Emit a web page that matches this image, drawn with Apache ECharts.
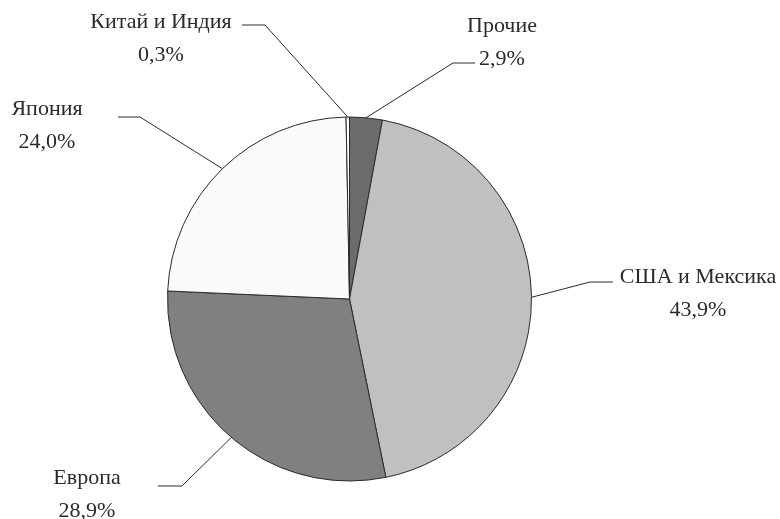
<!DOCTYPE html>
<html>
<head>
<meta charset="utf-8">
<script src="https://cdn.jsdelivr.net/npm/echarts@6/dist/echarts.min.js"></script>
<style>html,body{margin:0;padding:0;background:#fff}#c{width:780px;height:519px}</style>
</head>
<body>
<div id="c"></div>
<script>
// Data
var categories = ['Прочие', 'США и Мексика', 'Европа', 'Япония', 'Китай и Индия'];
var shares = [2.9, 43.9, 28.9, 24.0, 0.3];
var colors = ['#6b6b6b', '#c0c0c0', '#808080', '#fafafa', '#ffffff'];

// Label layout (label block centre x, first-line centre y; line end; elbow)
var labelPos = [[502, 26], [698, 277], [87, 478], [47, 109], [161, 22]];
var lineEnd = [[475, 63], [613, 282], [158, 486], [118, 117], [242, 25]];
var lineElbow = [[453, 63], [590, 282], [182, 486], [140, 117], [265, 25]];
var LH = 33;

var chart = echarts.init(document.getElementById('c'), null, {renderer: 'canvas'});
chart.setOption({
  backgroundColor: '#ffffff',
  animation: false,
  series: [{
    type: 'pie',
    center: [349.5, 299],
    radius: [0, 182],
    startAngle: 90,
    clockwise: true,
    avoidLabelOverlap: false,
    data: categories.map(function (c, i) {
      return {name: c, value: shares[i], itemStyle: {color: colors[i]}};
    }),
    itemStyle: {borderColor: '#2a2a2a', borderWidth: 1},
    label: {
      show: true,
      position: 'outside',
      color: '#2a2a2a',
      fontFamily: 'Liberation Serif',
      fontSize: 22,
      lineHeight: LH,
      align: 'center',
      formatter: function (p) {
        return p.name + '\n' + p.value.toFixed(1).replace('.', ',') + '%';
      }
    },
    labelLine: {show: true, length: 20, length2: 20, lineStyle: {color: '#2a2a2a', width: 1}},
    labelLayout: function (params) {
      var i = params.dataIndex;
      var p0 = params.labelLinePoints ? params.labelLinePoints[0] : lineElbow[i];
      return {
        x: labelPos[i][0],
        y: labelPos[i][1] - LH / 2,
        align: 'center',
        verticalAlign: 'top',
        labelLinePoints: [p0, lineElbow[i], lineEnd[i]]
      };
    }
  }]
});
</script>
</body>
</html>
